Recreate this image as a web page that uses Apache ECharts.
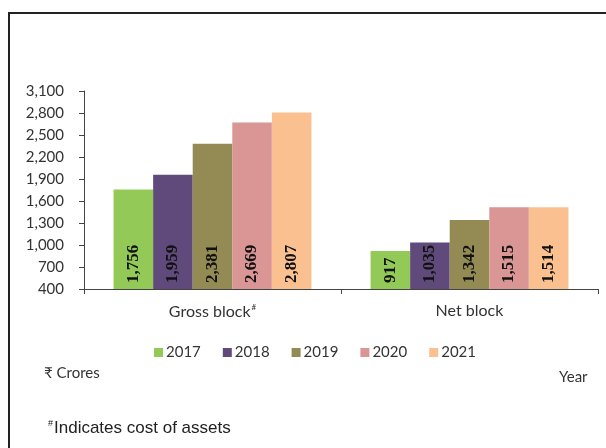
<!DOCTYPE html>
<html>
<head>
<meta charset="utf-8">
<script src="https://cdn.jsdelivr.net/npm/echarts@6/dist/echarts.min.js"></script>
<style>html,body{margin:0;padding:0;background:#fff;}#c{width:606px;height:448px;}</style>
</head>
<body>
<div id="c"></div>
<script>
var categories = ['Gross block', 'Net block'];
var years = ['2017', '2018', '2019', '2020', '2021'];
var values2017 = [1756, 917];
var values2018 = [1959, 1035];
var values2019 = [2381, 1342];
var values2020 = [2669, 1515];
var values2021 = [2807, 1514];
var yTicks = [400, 700, 1000, 1300, 1600, 1900, 2200, 2500, 2800, 3100];
var colors = ['#92C957', '#604A7B', '#948A54', '#D99694', '#FAC090'];
var allValues = [values2017, values2018, values2019, values2020, values2021];

var chart = echarts.init(document.getElementById('c'));
var series = years.map(function (y, i) {
  return {
    name: y,
    type: 'bar',
    data: allValues[i],
    barGap: '0%',
    barCategoryGap: '23%',
    itemStyle: { color: colors[i] },
    label: {
      show: true,
      position: 'insideBottom',
      distance: 6,
      rotate: 90,
      align: 'left',
      verticalAlign: 'middle',
      fontFamily: 'Liberation Serif',
      fontWeight: 'bold',
      fontSize: 17,
      color: '#111',
      formatter: function (p) { return p.value.toLocaleString('en-US'); }
    }
  };
});

chart.setOption({
  animation: false,
  color: colors,
  grid: { left: 84, right: 8, top: 91, bottom: 159 },
  legend: {
    data: years,
    left: 149,
    top: 340,
    itemWidth: 9,
    itemHeight: 9,
    itemGap: 22,
    icon: 'rect',
    textStyle: { fontFamily: 'Lato', fontSize: 15, color: '#333', padding: [0, 0, 0, -2] }
  },
  xAxis: {
    type: 'category',
    data: categories,
    axisLine: { lineStyle: { color: '#444', width: 1 } },
    axisTick: { show: true, length: 5, lineStyle: { color: '#444' } },
    axisLabel: {
      margin: 14,
      fontFamily: 'Lato',
      fontSize: 16,
      color: '#333',
      formatter: function (v) { return v === 'Gross block' ? v + '{sup|#}' : v; },
      rich: { sup: { fontSize: 8, verticalAlign: 'top', padding: [0, 0, 9, 1], color: '#333' } }
    }
  },
  yAxis: {
    type: 'value',
    min: yTicks[0],
    max: yTicks[yTicks.length - 1],
    interval: 300,
    splitLine: { show: false },
    axisLine: { show: true, lineStyle: { color: '#444', width: 1 } },
    axisTick: { show: true, length: 5, lineStyle: { color: '#444' } },
    axisLabel: {
      margin: 20,
      fontFamily: 'Lato',
      fontSize: 15,
      color: '#333',
      formatter: function (v) { return v.toLocaleString('en-US'); }
    }
  },
  graphic: [
    { type: 'polyline', shape: { points: [[9, 448], [9, 13], [606, 13]] }, style: { stroke: '#222', lineWidth: 2, fill: null } },
    { type: 'text', left: 44, top: 366, style: { text: '₹ Crores', fontFamily: 'Lato', fontSize: 15, fill: '#333' } },
    { type: 'text', left: 559, top: 370, style: { text: 'Year', fontFamily: 'Lato', fontSize: 15, fill: '#333' } },
    { type: 'text', left: 48, top: 419, style: { text: '{s|#}Indicates cost of assets', fontFamily: 'Liberation Sans', fontSize: 17, fill: '#222', rich: { s: { fontSize: 9, verticalAlign: 'top', padding: [0, 1, 9, 0], fill: '#222' } } } }
  ],
  series: series
});
</script>
</body>
</html>
